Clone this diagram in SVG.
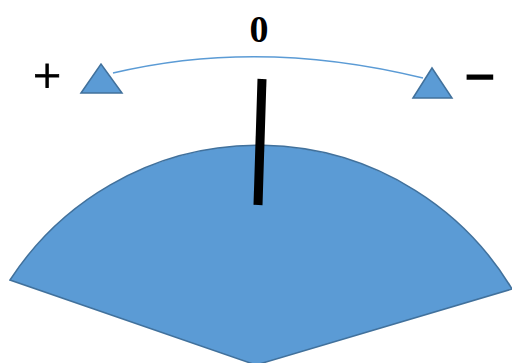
<svg xmlns="http://www.w3.org/2000/svg" width="512" height="363" viewBox="0 0 512 363">
  <style>
    .shape { fill: #5B9BD5; stroke: #41719C; stroke-width: 1.5; stroke-linejoin: miter; }
    .lbl { font-family: "Liberation Serif", "Times New Roman", serif; fill: #000; }
  </style>
  <rect width="512" height="363" fill="#fff"/>
  <g id="sector">
    <path class="shape" d="M256,365 L10,280 A296,296 0 0 1 512,289 Z"/>
  </g>
  <g id="connectors">
    <path d="M113,73 Q260,38 423,78" fill="none" stroke="#5B9BD5" stroke-width="1.5"/>
  </g>
  <g id="needle">
    <line x1="262" y1="79" x2="258" y2="205" stroke="#000" stroke-width="9"/>
  </g>
  <g id="tri-plus">
    <polygon class="shape" points="81,93 101,64 122,93"/>
  </g>
  <g id="tri-minus">
    <polygon class="shape" points="413,98 432,68 452,98"/>
  </g>
  <g id="label-zero">
    <text class="lbl" x="259" y="42" font-size="38" font-weight="bold" text-anchor="middle">0</text>
  </g>
  <g id="label-plus">
    <text class="lbl" x="47" y="93" font-size="50" text-anchor="middle" stroke="#000" stroke-width="0.8">+</text>
  </g>
  <g id="label-minus">
    <text class="lbl" x="480" y="95" font-size="54" font-weight="bold" text-anchor="middle" stroke="#000" stroke-width="1.5">−</text>
  </g>
</svg>
